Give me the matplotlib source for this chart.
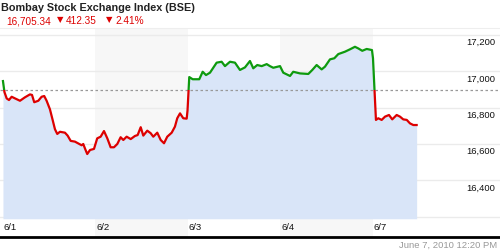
import numpy as np
import matplotlib
matplotlib.use("Agg")
import matplotlib.pyplot as plt
from matplotlib.patches import Rectangle

plt.rcParams['font.family'] = ['Liberation Sans', 'DejaVu Sans']

#------------------------------------------#
# Donnees
#------------------------------------------#

title = "Bombay Stock Exchange Index (BSE)"
last_value = "16,705.34"
change_pts = "412.35"
change_pct = "2.41%"
timestamp = "June 7, 2010 12:20 PM"

day_labels = ["6/1", "6/2", "6/3", "6/4", "6/7"]
y_ticks = [16400, 16600, 16800, 17000, 17200]
prev_close = 16895

# position in trading days (0 = open of 6/1)
days = [0.000, 0.016, 0.040, 0.065, 0.094, 0.130, 0.184, 0.238, 0.292, 0.314,
        0.338, 0.382, 0.418, 0.446, 0.472, 0.508, 0.537, 0.562, 0.587, 0.616,
        0.670, 0.699, 0.732, 0.778, 0.825, 0.851, 0.868, 0.890, 0.911, 0.941,
        0.984, 1.019, 1.056, 1.092, 1.128, 1.164, 1.200, 1.236, 1.272, 1.301,
        1.337, 1.381, 1.427, 1.456, 1.489, 1.517, 1.560, 1.597, 1.625, 1.668,
        1.705, 1.741, 1.776, 1.824, 1.859, 1.884, 1.914, 1.949, 1.986, 1.995,
        2.014, 2.051, 2.122, 2.159, 2.195, 2.238, 2.310, 2.364, 2.400, 2.454,
        2.508, 2.562, 2.616, 2.670, 2.706, 2.749, 2.797, 2.851, 2.886, 2.922,
        2.995, 3.030, 3.103, 3.138, 3.211, 3.301, 3.344, 3.391, 3.445, 3.481,
        3.535, 3.582, 3.625, 3.697, 3.751, 3.805, 3.841, 3.884, 3.932, 3.989,
        4.000, 4.032, 4.057, 4.094, 4.130, 4.173, 4.208, 4.256, 4.292, 4.327,
        4.365, 4.400, 4.436, 4.472]
index = [16945, 16885, 16850, 16841, 16859, 16850, 16837, 16856, 16872, 16869,
         16829, 16837, 16859, 16863, 16837, 16790, 16732, 16681, 16655, 16667,
         16662, 16646, 16617, 16613, 16600, 16593, 16600, 16571, 16545, 16567,
         16573, 16631, 16640, 16671, 16631, 16582, 16582, 16600, 16637, 16622,
         16640, 16627, 16644, 16649, 16692, 16646, 16673, 16659, 16640, 16662,
         16622, 16604, 16640, 16662, 16695, 16741, 16768, 16741, 16739, 16783,
         16967, 16955, 16955, 16996, 16978, 16991, 17046, 17051, 17027, 17051,
         17046, 17006, 17020, 17055, 17015, 17033, 17027, 17038, 17027, 17018,
         17027, 16991, 16973, 16996, 16987, 16984, 17006, 17033, 17009, 17024,
         17064, 17070, 17093, 17106, 17119, 17133, 17124, 17111, 17121, 17115,
         17070, 16732, 16741, 16732, 16750, 16759, 16735, 16759, 16750, 16735,
         16732, 16713, 16704, 16704]

#------------------------------------------#

GREEN = "#0e9a0e"
RED = "#dd0000"

fig = plt.figure(figsize=(5, 2.5), dpi=100)
ax = fig.add_axes([0, 13 / 250, 1, 209 / 250])

x0, x1 = -0.032, 5.373
y0, y1 = 16090, 17236
ax.set_xlim(x0, x1)
ax.set_ylim(y0, y1)

# bandes grises une journee sur deux
for i in range(len(day_labels)):
    if i % 2 == 1:
        ax.axvspan(i, i + 1, color="#f7f7f7", lw=0, zorder=0)

# grille horizontale
for v in [16200] + y_ticks:
    ax.axhline(v, color="#ebebeb", lw=1, zorder=1)
    if v in y_ticks:
        ax.text(x1 - 0.05, v - 18, "{:,}".format(v), ha="right", va="top",
                fontsize=6.8, color="#111111", zorder=5)

# aire sous la courbe
ax.fill_between(days, index, 16190, color="#d9e5f8", lw=0, zorder=2)

ax.axhline(prev_close, color="#999999", lw=0.9, ls=(0, (2, 2)), zorder=3)

# courbe : verte au dessus de la cloture precedente, rouge en dessous
up = Rectangle((x0, prev_close), x1 - x0, y1 - prev_close, transform=ax.transData)
down = Rectangle((x0, y0), x1 - x0, prev_close - y0, transform=ax.transData)
l1, = ax.plot(days, index, color=GREEN, lw=1.6, zorder=4)
l1.set_clip_path(up)
l2, = ax.plot(days, index, color=RED, lw=1.6, zorder=4)
l2.set_clip_path(down)

for i, lab in enumerate(day_labels):
    ax.text(i + 0.01, 16140, lab, ha="left", va="center", fontsize=6.8,
            color="#111111", zorder=5)

ax.set_xticks([])
ax.set_yticks([])
for s in ["left", "right"]:
    ax.spines[s].set_visible(False)
ax.spines["top"].set_color("#eeeeee")
ax.spines["top"].set_linewidth(0.8)
ax.spines["bottom"].set_color("black")
ax.spines["bottom"].set_linewidth(2)

# titres
fig.text(0.002, 1 - 8 / 250, title, fontsize=7.8, fontweight="bold",
         color="#222222", ha="left", va="center")
fig.text(6 / 500, 1 - 21 / 250, last_value, fontsize=7.2, color=RED,
         ha="left", va="center")
fig.text(57 / 500, 1 - 20 / 250, "\u25bc", fontsize=6, color=RED,
         ha="left", va="center", family="DejaVu Sans")
fig.text(66 / 500, 1 - 21 / 250, change_pts, fontsize=7.2, color=RED,
         ha="left", va="center")
fig.text(106 / 500, 1 - 20 / 250, "\u25bc", fontsize=6, color=RED,
         ha="left", va="center", family="DejaVu Sans")
fig.text(115 / 500, 1 - 21 / 250, change_pct, fontsize=7.2, color=RED,
         ha="left", va="center")
fig.text(497 / 500, 1 - 245 / 250, timestamp, fontsize=6.8, color="#999999",
         ha="right", va="center")

fig.savefig("out.png", dpi=100)
